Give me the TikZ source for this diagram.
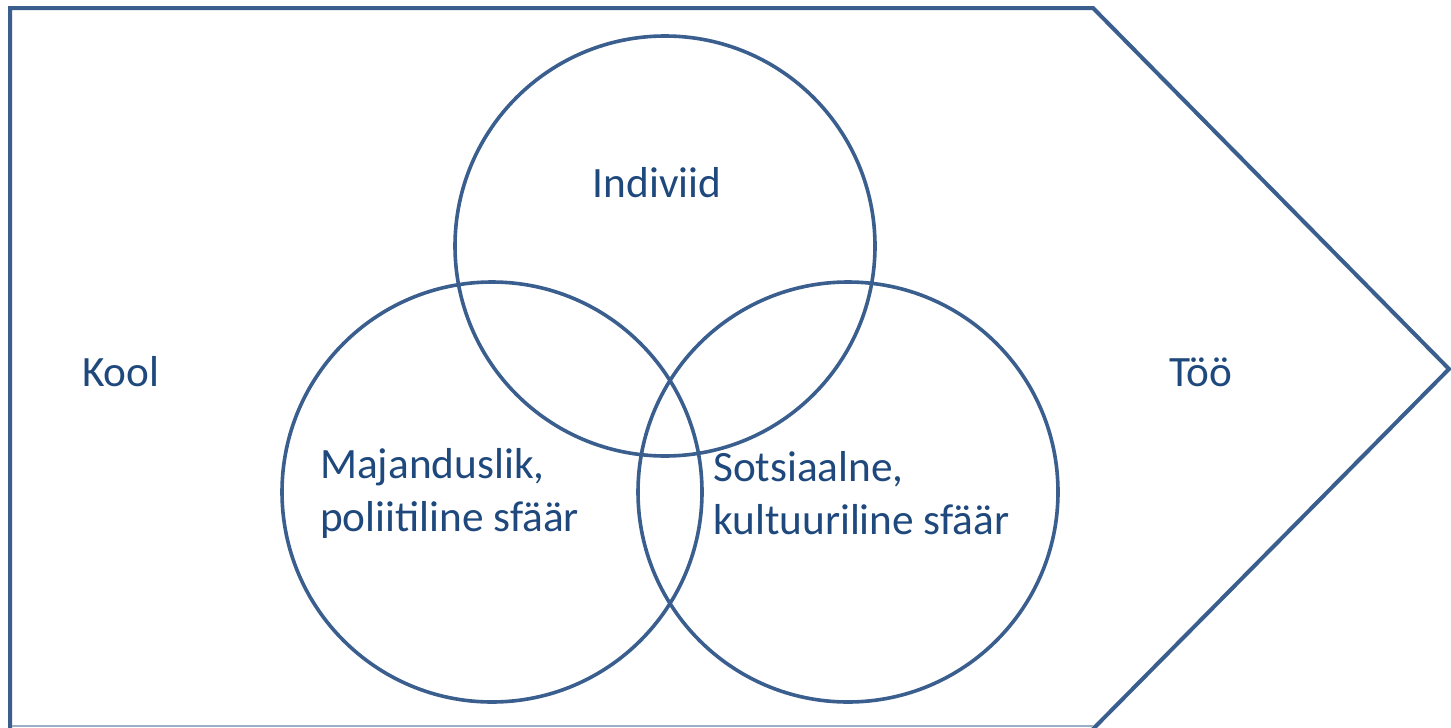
\documentclass[tikz,border=0pt]{standalone}
\usepackage{fontspec}
\setmainfont{Carlito}
\definecolor{lineblue}{HTML}{3A5F8E}
\definecolor{textblue}{HTML}{1F497D}
\definecolor{edgegray}{HTML}{9AAFC6}
\begin{document}
\begin{tikzpicture}[x=1pt,y=-1pt,
  ring/.style={circle,draw=lineblue,line width=3.6pt,minimum size=420pt,inner sep=0pt},
  lbl/.style={text=textblue,font=\fontsize{43.3}{53}\selectfont,inner sep=0pt},
  lbll/.style={lbl,align=left,anchor=west}]
\useasboundingbox (0,0) rectangle (1451,728);
\fill[white] (0,0) rectangle (1451,728);
\coordinate (tl) at (10,8);
\coordinate (tr) at (1093,8);
\coordinate (tip) at (1449,369);
\coordinate (br) at (1093,729);
\coordinate (bl) at (10,729);
\draw[lineblue,line width=4pt,line join=miter] (bl) -- (tl) -- (tr) -- (tip) -- (br);
\draw[edgegray,line width=2pt] (12,726) -- (1093,726);
\node[ring] (ind) at (665,246) {};
\node[ring] (maj) at (492,492) {};
\node[ring] (sot) at (848,492) {};
\node[lbl] (indt) at (657,183) {Indiviid};
\node[lbl,anchor=west] (kool) at (82,372) {Kool};
\node[lbl] (too) at (1201,372) {Töö};
\node[lbll] (majt) at (320,493) {Majanduslik,\\poliitiline sfäär};
\node[lbll] (sott) at (713,493) {Sotsiaalne,\\kultuuriline sfäär};
\end{tikzpicture}
\end{document}
